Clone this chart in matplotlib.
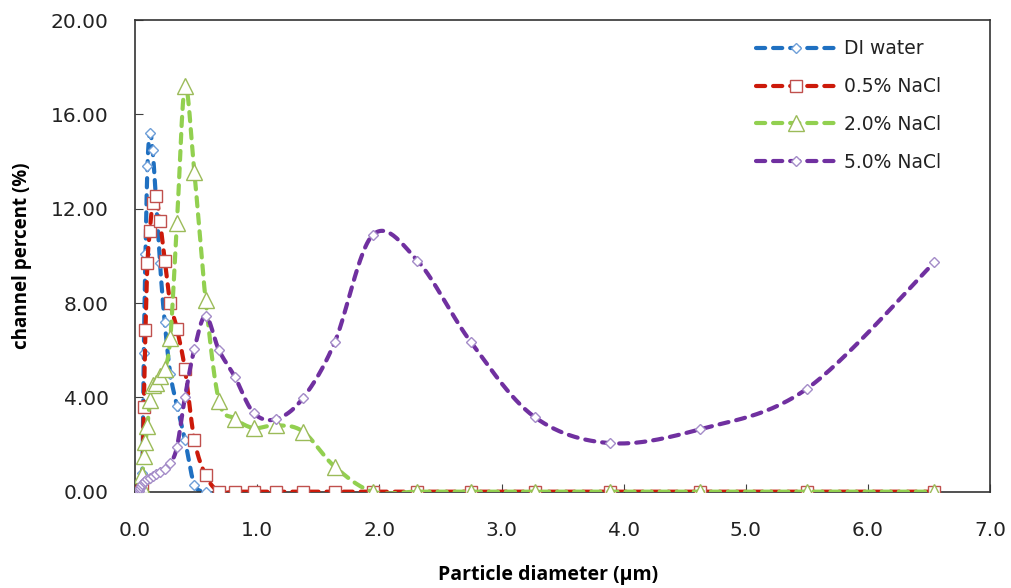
import numpy as np
import matplotlib
matplotlib.use("Agg")
import matplotlib.pyplot as plt
from matplotlib.lines import Line2D

# ---- data ----
di_x = [0.0430, 0.0511, 0.0608, 0.0723, 0.0860, 0.1022, 0.1216, 0.1446, 0.1719,
        0.2044, 0.2431, 0.2891, 0.3438, 0.4088, 0.4861, 0.5781]
di_y = [0.0, 0.0, 0.8, 5.9, 10.1, 13.8, 15.2, 14.5, 12.4,
        9.7, 7.2, 5.0, 3.65, 2.2, 0.3, 0.0]

nacl05_x = [0.0430, 0.0511, 0.0608, 0.0723, 0.0860, 0.1022, 0.1216, 0.1446, 0.1719,
            0.2044, 0.2431, 0.2891, 0.3438, 0.4088, 0.4861, 0.5781, 0.6875, 0.8175,
            0.9722, 1.156, 1.375, 1.635, 1.945, 2.312, 2.750, 3.270, 3.889, 4.625,
            5.500, 6.541]
nacl05_y = [0.0, 0.0, 0.3, 3.6, 6.85, 9.7, 11.05, 12.25, 12.55,
            11.5, 9.8, 8.0, 6.9, 5.2, 2.2, 0.7, 0.0, 0.0,
            0.0, 0.0, 0.0, 0.0, 0.0, 0.0, 0.0, 0.0, 0.0, 0.0,
            0.0, 0.0]

nacl20_x = [0.0215, 0.0255, 0.0304, 0.0361, 0.0430, 0.0511, 0.0608, 0.0723, 0.0860,
            0.1022, 0.1216, 0.1446, 0.1719, 0.2044, 0.2431, 0.2891, 0.3438, 0.4088,
            0.4861, 0.5781, 0.6875, 0.8175, 0.9722, 1.156, 1.375, 1.635, 1.945,
            2.312, 2.750, 3.270, 3.889, 4.625, 5.500, 6.541]
nacl20_y = [0.0, 0.0, 0.0, 0.0, 0.0, 0.3, 0.7, 1.5, 2.1,
            2.8, 3.87, 4.54, 4.61, 4.9, 5.2, 6.5, 11.4, 17.2,
            13.55, 8.15, 3.85, 3.1, 2.7, 2.82, 2.55, 1.06, 0.0,
            0.0, 0.0, 0.0, 0.0, 0.0, 0.0, 0.0]

nacl50_x = [0.0215, 0.0255, 0.0304, 0.0361, 0.0430, 0.0511, 0.0608, 0.0723, 0.0860,
            0.1022, 0.1216, 0.1446, 0.1719, 0.2044, 0.2431, 0.2891, 0.3438, 0.4088,
            0.4861, 0.5781, 0.6875, 0.8175, 0.9722, 1.156, 1.375, 1.635, 1.945,
            2.312, 2.750, 3.270, 3.889, 4.625, 5.500, 6.541]
nacl50_y = [0.0, 0.0, 0.05, 0.1, 0.15, 0.25, 0.32, 0.4, 0.45,
            0.52, 0.6, 0.66, 0.74, 0.85, 0.95, 1.2, 1.9, 4.0,
            6.05, 7.45, 6.0, 4.87, 3.34, 3.08, 3.97, 6.34, 10.88,
            9.8, 6.34, 3.17, 2.06, 2.65, 4.37, 9.72]

labels = ["DI water", "0.5% NaCl", "2.0% NaCl", "5.0% NaCl"]
x_ticks = [0, 1, 2, 3, 4, 5, 6, 7]
x_ticklabels = ["0.0", "1.0", "2.0", "3.0", "4.0", "5.0", "6.0", "7.0"]
y_ticks = [0, 4, 8, 12, 16, 20]
y_ticklabels = ["0.00", "4.00", "8.00", "12.00", "16.00", "20.00"]


def smooth(x, y, n=30):
    """Excel-like smoothed line (Bezier with Catmull-Rom control points)."""
    x = np.asarray(x, float)
    y = np.asarray(y, float)
    P = np.column_stack([x, y])
    out = []
    m = len(P)
    t = np.linspace(0, 1, n)[:, None]
    for i in range(m - 1):
        p0 = P[i - 1] if i > 0 else P[i]
        p1 = P[i]
        p2 = P[i + 1]
        p3 = P[i + 2] if i + 2 < m else P[i + 1]
        c1 = p1 + (p2 - p0) / 6.0
        c2 = p2 - (p3 - p1) / 6.0
        seg = ((1 - t) ** 3) * p1 + 3 * ((1 - t) ** 2) * t * c1 + 3 * (1 - t) * t ** 2 * c2 + t ** 3 * p2
        out.append(seg if i == 0 else seg[1:])
    s = np.vstack(out)
    return s[:, 0], s[:, 1]


fig = plt.figure(figsize=(10.11, 5.88), dpi=100)
ax = fig.add_axes([0.1335, 0.1638, 0.846, 0.802])

LW = 3.0
DASH = (2.2, 1.9)
series = [
    (di_x, di_y, "#1F70C1", "D", 5.5, "#6F9FD8", labels[0]),
    (nacl05_x, nacl05_y, "#CC1A0A", "s", 8.0, "#C0504D", labels[1]),
    (nacl20_x, nacl20_y, "#92D050", "^", 11.5, "#9BBB59", labels[2]),
    (nacl50_x, nacl50_y, "#7030A0", "D", 5.5, "#A48CC8", labels[3]),
]

handles = []
for k, (xs, ys, col, mk, ms, mec, lab) in enumerate(series):
    sx, sy = smooth(xs, ys)
    ax.plot(sx, sy, color=col, lw=LW, dashes=DASH, dash_capstyle="round",
            zorder=2 + k * 2)
    ax.plot(xs, ys, ls="none", marker=mk, ms=ms, mfc="white", mec=mec, mew=1.0,
            zorder=3 + k * 2)
    handles.append(Line2D([0], [0], color=col, lw=LW, dashes=DASH,
                          dash_capstyle="round", marker=mk, ms=ms, mfc="white",
                          mec=mec, mew=1.0))

ax.set_xlim(0, 7)
ax.set_ylim(0, 20)
ax.set_xticks(x_ticks)
ax.set_xticklabels(x_ticklabels)
ax.set_yticks(y_ticks)
ax.set_yticklabels(y_ticklabels)
ax.tick_params(direction="in", length=6, width=0.8, colors="#404040",
               labelsize=14.5, labelcolor="#222222")
ax.tick_params(axis="y", pad=19)
ax.tick_params(axis="x", pad=21)
for sp in ax.spines.values():
    sp.set_color("#333333")
    sp.set_linewidth(1.2)

ax.set_xlabel("Particle diameter (\u03bcm)", fontsize=14, fontweight="bold",
              family="Open Sans")
ax.xaxis.set_label_coords(0.483, -0.155)
ax.set_ylabel("channel percent (%)", fontsize=13.5, fontweight="bold",
              family="Open Sans")
ax.yaxis.set_label_coords(-0.12, 0.5)

leg = ax.legend(handles, labels, loc="upper left", bbox_to_anchor=(0.706, 0.995),
                frameon=False, handlelength=4.27, handletextpad=0.43,
                labelspacing=1.0, prop={"family": "DejaVu Sans", "size": 13.5})
for t in leg.get_texts():
    t.set_color("#222222")

fig.savefig("out.png", dpi=100)
